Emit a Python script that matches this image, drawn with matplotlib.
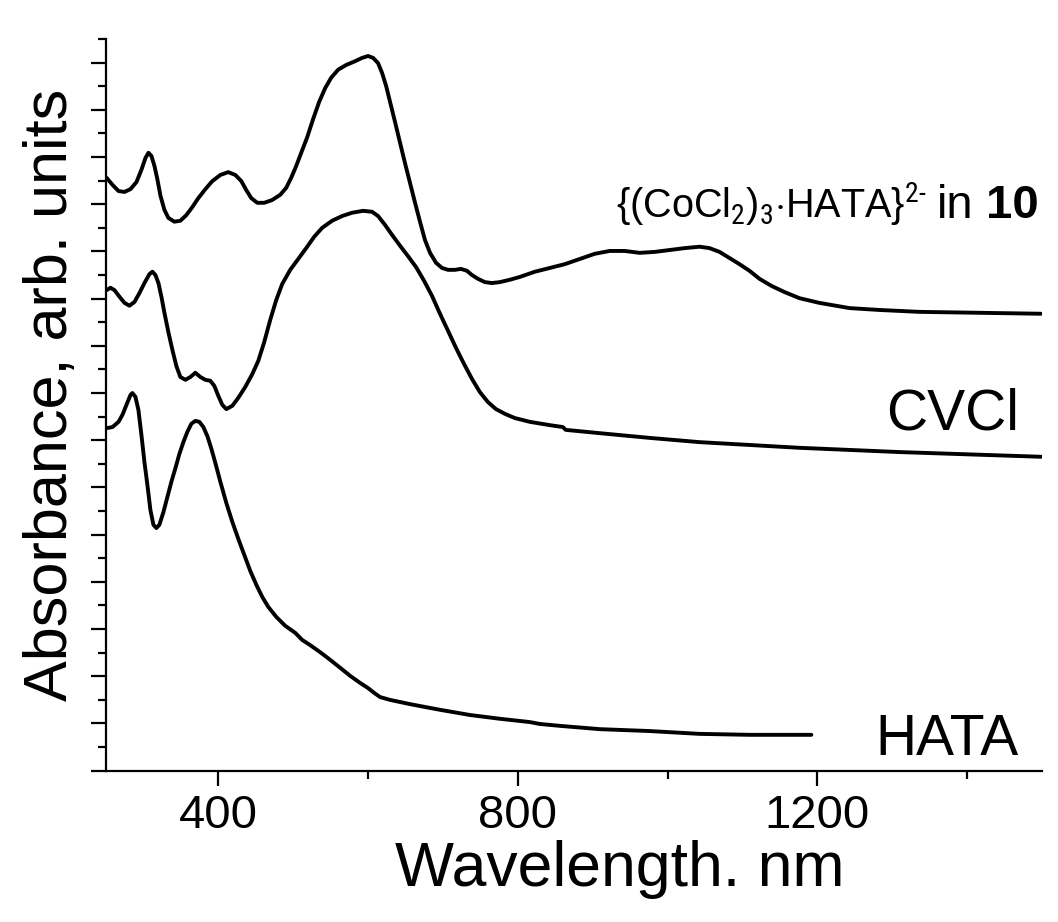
import matplotlib
matplotlib.use("Agg")
import matplotlib.pyplot as plt
from matplotlib.ticker import MultipleLocator, NullFormatter
from matplotlib import font_manager

plt.rcParams["font.family"] = ["Liberation Sans", "DejaVu Sans"]

# narrow sans for the complex formula label (Arial Narrow look)
names = {f.name for f in font_manager.fontManager.ttflist}
narrow = "Liberation Sans"
for cand in ["Liberation Sans Narrow", "Arial Narrow", "Roboto Condensed",
             "Archivo Narrow", "Open Sans Condensed", "Asap Condensed"]:
    if cand in names:
        narrow = cand
        break
plt.rcParams["mathtext.fontset"] = "custom"
plt.rcParams["mathtext.rm"] = narrow
plt.rcParams["mathtext.it"] = narrow
plt.rcParams["mathtext.bf"] = narrow + ":bold"

# {(CoCl2)3.HATA}2- in 10  (offset spectrum)
wl_co = [250.7, 258.7, 266.7, 274.7, 282.7, 290.7, 297.3, 302.7, 306.7, 310.7, 314.7,
         318.7, 322.7, 328, 333.3, 341.3, 349.3, 357.3, 365.3, 373.3, 382.7, 392,
         402.7, 413.3, 422.7, 430.7, 437.3, 444, 452, 461.3, 472, 482.7, 490.7, 497.3,
         504, 510.7, 518.7, 526.7, 534.7, 542.7, 550.7, 560, 570.7, 581.3, 592, 600,
         606.7, 613.3, 618.7, 624, 629.3, 636, 642.7, 649.3, 656, 662.7, 669.3, 676,
         682.7, 690.7, 698.7, 706.7, 716, 724, 732, 738.7, 746.7, 756, 765.3, 776,
         789.3, 802.7, 822.7, 842.7, 862.7, 882.7, 902.7, 922.7, 942.7, 962.7, 982.7,
         1002.7, 1022.7, 1042.7, 1056, 1069.3, 1082.7, 1096, 1109.3, 1122.7, 1138.7,
         1156, 1176, 1202.7, 1242.7, 1282.7, 1336, 1416, 1498.7]
ab_co = [12.56, 12.41, 12.28, 12.26, 12.32, 12.47, 12.73, 12.98, 13.09, 13.02, 12.81,
         12.52, 12.18, 11.88, 11.71, 11.63, 11.65, 11.77, 11.94, 12.13, 12.32, 12.49,
         12.62, 12.68, 12.62, 12.49, 12.30, 12.13, 12.03, 12.03, 12.09, 12.20, 12.35,
         12.56, 12.81, 13.09, 13.42, 13.81, 14.17, 14.46, 14.68, 14.85, 14.95, 15.02,
         15.10, 15.14, 15.10, 14.99, 14.78, 14.51, 14.17, 13.74, 13.30, 12.87, 12.45,
         12.03, 11.63, 11.24, 10.97, 10.76, 10.65, 10.61, 10.61, 10.63, 10.59, 10.50,
         10.42, 10.35, 10.33, 10.35, 10.40, 10.46, 10.57, 10.65, 10.73, 10.84, 10.95,
         11.01, 11.01, 10.97, 10.99, 11.03, 11.07, 11.10, 11.07, 10.99, 10.86, 10.73,
         10.59, 10.42, 10.27, 10.14, 10.01, 9.91, 9.80, 9.76, 9.72, 9.70, 9.68]

# CVCl
wl_cv = [250.7, 256, 261.3, 268, 274.7, 281.3, 288, 294.7, 301.3, 308, 312, 316, 320,
         324, 328, 333.3, 338.7, 344, 349.3, 356, 362.7, 369.3, 376, 382.7, 389.3,
         394.7, 400, 405.3, 410.7, 418.7, 426.7, 436, 445.3, 453.3, 461.3, 469.3,
         477.3, 485.3, 496, 506.7, 517.3, 528, 538.7, 552, 565.3, 578.7, 593.3, 605.3,
         613.3, 622.7, 632, 642.7, 653.3, 664, 674.7, 685.3, 696, 706.7, 717.3, 728,
         738.7, 749.3, 760, 770.7, 782.7, 796, 816, 842.7, 860, 864, 909.3, 976,
         1042.7, 1176, 1309.3, 1498.7]
ab_cv = [10.18, 10.23, 10.18, 10.04, 9.91, 9.85, 9.93, 10.12, 10.33, 10.52, 10.57,
         10.50, 10.33, 10.04, 9.70, 9.29, 8.91, 8.57, 8.34, 8.28, 8.34, 8.43, 8.34,
         8.28, 8.26, 8.15, 7.94, 7.75, 7.66, 7.73, 7.90, 8.13, 8.40, 8.68, 9.08, 9.55,
         9.97, 10.31, 10.61, 10.84, 11.07, 11.31, 11.50, 11.65, 11.75, 11.82, 11.86,
         11.84, 11.75, 11.56, 11.35, 11.12, 10.90, 10.67, 10.38, 10.06, 9.68, 9.32,
         8.96, 8.62, 8.30, 8.02, 7.81, 7.66, 7.56, 7.47, 7.39, 7.32, 7.28, 7.22, 7.15,
         7.05, 6.96, 6.84, 6.75, 6.65]

# HATA
wl_ha = [252, 258.7, 266.7, 272, 277.3, 282.7, 285.3, 289.3, 293.3, 297.3, 301.3,
         305.3, 309.3, 313.3, 317.3, 321.3, 326.7, 332, 337.3, 342.7, 348, 353.3,
         358.7, 364, 369.3, 374.7, 380, 385.3, 390.7, 396, 402.7, 410.7, 418.7, 426.7,
         434.7, 442.7, 450.7, 458.7, 466.7, 477.3, 489.3, 502.7, 512, 522.7, 536,
         549.3, 562.7, 576, 589.3, 600, 608, 616, 629.3, 656, 696, 736, 776, 816,
         829.3, 856, 909.3, 976, 1042.7, 1109.3, 1192]
ab_ha = [7.26, 7.28, 7.39, 7.54, 7.75, 7.96, 8.00, 7.92, 7.64, 7.11, 6.54, 6.05, 5.52,
         5.21, 5.14, 5.21, 5.48, 5.80, 6.12, 6.41, 6.71, 6.96, 7.18, 7.35, 7.41, 7.39,
         7.28, 7.09, 6.82, 6.52, 6.12, 5.67, 5.27, 4.91, 4.57, 4.23, 3.94, 3.68, 3.47,
         3.26, 3.07, 2.92, 2.77, 2.66, 2.51, 2.35, 2.18, 2.01, 1.86, 1.75, 1.65, 1.56,
         1.50, 1.41, 1.29, 1.18, 1.10, 1.03, 0.99, 0.95, 0.88, 0.84, 0.78, 0.76, 0.76]

fig = plt.figure(figsize=(10.58, 9.22), dpi=100)
ax = fig.add_axes([0.1002, 0.1641, 0.8847, 0.7936])

kw = dict(color="black", lw=2.8, solid_joinstyle="round", solid_capstyle="round")
ax.plot(wl_co, ab_co, **kw)
ax.plot(wl_cv, ab_cv, **kw)
ax.plot(wl_ha, ab_ha, **kw)

ax.set_xlim(250, 1500)
ax.set_ylim(0, 15.5)

for s in ["top", "right"]:
    ax.spines[s].set_visible(False)
for s in ["left", "bottom"]:
    ax.spines[s].set_linewidth(1.6)

ax.xaxis.set_major_locator(MultipleLocator(400))
ax.xaxis.set_minor_locator(MultipleLocator(200))
ax.yaxis.set_major_locator(MultipleLocator(1))
ax.yaxis.set_minor_locator(MultipleLocator(0.5))
ax.yaxis.set_major_formatter(NullFormatter())
ax.tick_params(which="major", length=11, width=1.6, direction="out")
ax.tick_params(which="minor", length=5.5, width=1.6, direction="out")
ax.tick_params(axis="x", labelsize=34, pad=6)

ax.set_xlabel("Wavelength. nm", fontsize=45)
ax.xaxis.set_label_coords(0.549, -0.095)
ax.set_ylabel("Absorbance, arb. units", fontsize=44)
ax.yaxis.set_label_coords(-0.028, 0.513)

# label of the top spectrum: formula, then "in", then bold "10"
ax.text(1345, 11.71, r"{(CoCl$_2$)$_3$$\cdot$HATA}$^{2\text{-}}$",
        fontsize=28.5, ha="right", va="baseline")
ax.text(1408, 11.71, "in", fontsize=34, ha="right", va="baseline")
ax.text(1496, 11.71, "10", fontsize=34, fontweight="bold", ha="right", va="baseline")
ax.text(1469, 7.22, "CVCl", fontsize=41, ha="right", va="baseline")
ax.text(1469, 0.33, "HATA", fontsize=41, ha="right", va="baseline")

fig.savefig("out.png", dpi=100, facecolor="white")
